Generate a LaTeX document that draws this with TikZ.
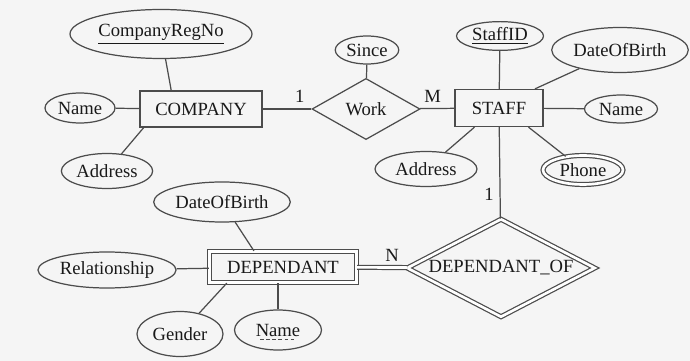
\documentclass[tikz,border=0pt]{standalone}
\usepackage{fontspec}
\setmainfont{Liberation Serif}
\usetikzlibrary{calc}
\usetikzlibrary{shapes.geometric}

\begin{document}
\begin{tikzpicture}[x=0.02cm,y=-0.02cm,line width=0.7pt,draw=black!70,text=black!90,
	font=\fontsize{10.6}{12}\selectfont,
	entity/.style={draw,rectangle,inner sep=2pt},
	relation/.style={draw,diamond,inner sep=1pt},
	attrib/.style={draw,ellipse,inner sep=1pt},
	dbl/.style={double,double distance=1.5pt}]
	\fill[black!4] (0,0) rectangle (690,361);
	\node[entity,minimum width=2.44cm,minimum height=0.72cm] (company) at (201,109) {COMPANY};
	\node[entity,minimum width=1.76cm,minimum height=0.74cm] (staff) at (499,108) {STAFF};
	\node[entity,dbl,minimum width=2.94cm,minimum height=0.62cm] (dependant) at (283,267) {DEPENDANT};
	\node[relation,minimum width=2.16cm,minimum height=1.04cm] (work) at (366,109) {Work};
	\node[relation,dbl,aspect=1.9,minimum width=3.76cm,minimum height=1.96cm] (depof) at (501,268) {DEPENDANT\_OF};
	\node[attrib,minimum width=3.14cm,minimum height=0.98cm] (compregno) at (161,34) {\underline{CompanyRegNo}};
	\node[attrib,minimum width=1.4cm,minimum height=0.6cm] (compname) at (80,108) {Name};
	\node[attrib,minimum width=1.42cm,minimum height=0.7cm] (compaddress) at (107,171) {Address};
	\node[attrib,minimum width=1.2cm,minimum height=0.56cm] (since) at (367,50) {Since};
	\node[attrib,minimum width=1.74cm,minimum height=0.56cm] (staffid) at (500,36) {\underline{StaffID}};
	\node[attrib,minimum width=2.3cm,minimum height=0.9cm] (staffdob) at (620,50) {DateOfBirth};
	\node[attrib,minimum width=1.46cm,minimum height=0.56cm] (staffname) at (621,109) {Name};
	\node[attrib,minimum width=2.04cm,minimum height=0.7cm] (staffaddress) at (426,169) {Address};
	\node[attrib,dbl,minimum width=1.6cm,minimum height=0.58cm] (phone) at (583,170) {Phone};
	\node[attrib,minimum width=2.38cm,minimum height=0.8cm] (depdob) at (222,202) {DateOfBirth};
	\node[attrib,minimum width=2.4cm,minimum height=0.72cm] (relationship) at (107,270) {Relationship};
	\node[attrib,minimum width=1.72cm,minimum height=0.9cm] (gender) at (180,334) {Gender};
	\node[attrib,minimum width=1.74cm,minimum height=0.8cm] (depname) at (278,330) {Name};
	\draw[line width=0.5pt,dash pattern=on 2pt off 1.5pt] ($(depname.base)+(-18,3)$) -- ($(depname.base)+(18,3)$);
	\draw (company) -- node[pos=0.76,above] {1} (work);
	\draw (work) -- node[pos=0.37,above] {M} (staff);
	\draw (staff) -- node[pos=0.73,left] {1} (depof);
	\draw[dbl] (dependant) -- node[pos=0.7,above] {N} (depof);
	\draw (since) -- (work);
	\draw (compregno) -- (company.148);
	\draw (compname) -- (company);
	\draw (compaddress) -- (company.198);
	\draw (staffid) -- (staff);
	\draw (staffdob) -- (staff.28);
	\draw (staffname) -- (staff);
	\draw (staffaddress) -- (staff.218);
	\draw (phone) -- (staff.-33);
	\draw (depdob) -- (dependant.151);
	\draw (relationship) -- (dependant);
	\draw (gender) -- (dependant.196);
	\draw (depname) -- (depname |- dependant.south);
\end{tikzpicture}
\end{document}
